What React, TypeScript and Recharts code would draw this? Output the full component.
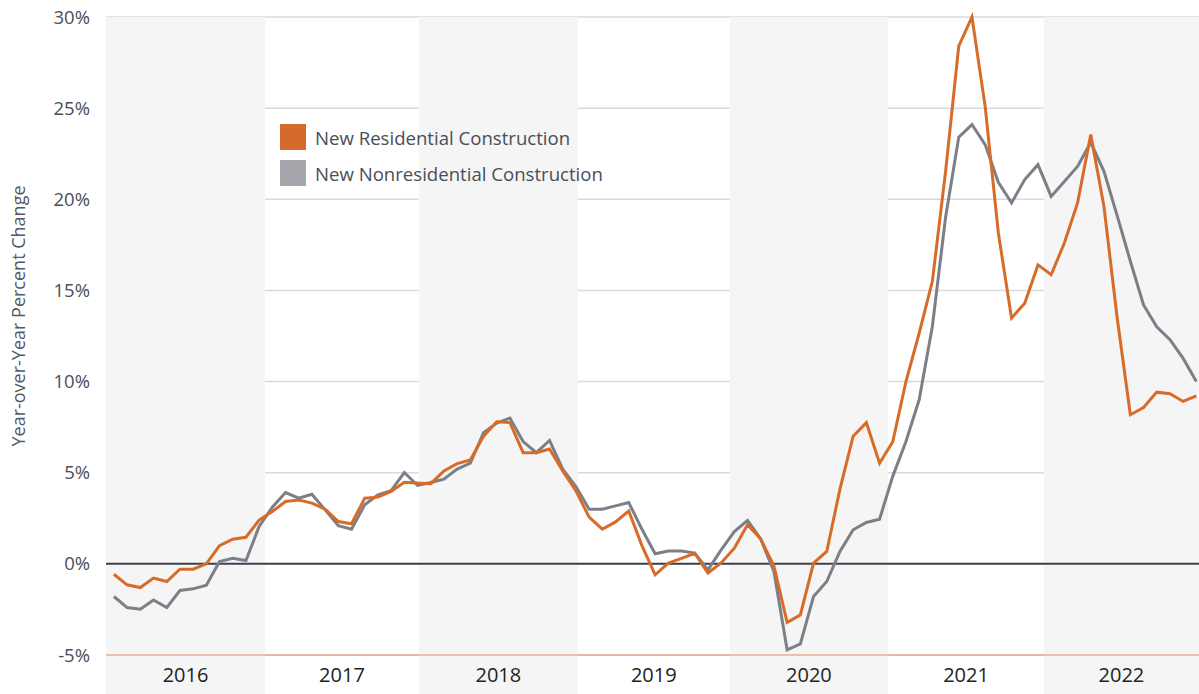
import {
  CartesianGrid,
  Line,
  LineChart,
  ReferenceArea,
  ReferenceLine,
  XAxis,
  YAxis,
} from "recharts"

// monthly year-over-year % change, 83 months
const residential = [
  -0.57, -1.15, -1.3, -0.78, -0.97, -0.29, -0.29, 0.0, 1.0, 1.35, 1.46, 2.4,
  2.87, 3.42, 3.5, 3.33, 3.0, 2.32, 2.2, 3.6, 3.66, 3.97, 4.48, 4.43,
  4.4, 5.1, 5.5, 5.7, 7.0, 7.8, 7.75, 6.1, 6.1, 6.3, 5.1, 4.0,
  2.56, 1.9, 2.3, 2.9, 1.0, -0.6, 0.04, 0.3, 0.58, -0.5, 0.05, 0.86,
  2.14, 1.36, -0.12, -3.22, -2.8, 0.04, 0.68, 4.1, 7.0, 7.75, 5.52, 6.7,
  10.0, 12.65, 15.5, 21.5, 28.4, 30.0, 25.1, 18.15, 13.48, 14.3, 16.4, 15.86,
  17.6, 19.8, 23.55, 19.6, 13.5, 8.18, 8.58, 9.42, 9.33, 8.91, 9.22,
]

const nonresidential = [
  -1.79, -2.4, -2.49, -1.98, -2.4, -1.46, -1.37, -1.17, 0.13, 0.31, 0.18, 2.05,
  3.11, 3.91, 3.6, 3.82, 2.96, 2.09, 1.9, 3.24, 3.79, 4.02, 5.01, 4.3,
  4.46, 4.65, 5.2, 5.53, 7.2, 7.72, 8.0, 6.71, 6.1, 6.77, 5.2, 4.24,
  3.0, 3.0, 3.18, 3.36, 1.9, 0.55, 0.71, 0.71, 0.59, -0.33, 0.77, 1.77,
  2.38, 1.36, -0.42, -4.72, -4.39, -1.79, -0.97, 0.68, 1.87, 2.27, 2.45, 4.8,
  6.71, 9.0, 13.02, 19.0, 23.41, 24.1, 23.0, 20.93, 19.8, 21.08, 21.9, 20.16,
  20.98, 21.8, 23.12, 21.53, 19.1, 16.6, 14.2, 13.0, 12.3, 11.27, 10.0,
]

const years = ["2016", "2017", "2018", "2019", "2020", "2021", "2022"]
// year boundaries in month-index units
const yearEdges = [-0.6, 11.45, 23.1, 35.15, 46.65, 58.65, 70.45, 82.2]
const yTicks = [-5, 0, 5, 10, 15, 20, 25, 30]

const data = residential.map((r, i) => ({
  month: i,
  residential: r,
  nonresidential: nonresidential[i],
}))

const yearCenters = years.map((_, i) => (yearEdges[i] + yearEdges[i + 1]) / 2)

const legendItems = [
  { label: "New Residential Construction", color: "#d46a2b" },
  { label: "New Nonresidential Construction", color: "#a5a7ad" },
]

const font = "'Open Sans', Roboto, sans-serif"

const App = () => {
  return (
    <div
      style={{
        position: "absolute",
        left: 0,
        top: 0,
        width: 1199,
        height: 694,
        fontFamily: font,
      }}
    >
      <LineChart
        width={1199}
        height={694}
        data={data}
        margin={{ top: 17, right: 0, bottom: 0, left: 0 }}
      >
        {years.map((y, i) =>
          i % 2 === 0 ? (
            <ReferenceArea
              key={y}
              x1={yearEdges[i]}
              x2={yearEdges[i + 1]}
              y1={-7.2}
              y2={30}
              fill="#f5f5f5"
              fillOpacity={1}
              stroke="none"
              ifOverflow="visible"
            />
          ) : null
        )}
        <CartesianGrid vertical={false} stroke="#dadade" strokeWidth={1.5} />
        <XAxis
          dataKey="month"
          type="number"
          height={39}
          domain={[yearEdges[0], yearEdges[yearEdges.length - 1]]}
          allowDataOverflow
          ticks={yearCenters}
          tickFormatter={(v) => years[yearCenters.indexOf(v)] ?? ""}
          tickLine={false}
          tickSize={0}
          tickMargin={13}
          axisLine={{ stroke: "#e0905f", strokeWidth: 1.2 }}
          tick={{ fill: "#222222", fontSize: 20, fontFamily: font }}
          interval={0}
        />
        <YAxis
          type="number"
          domain={[-5, 30]}
          ticks={yTicks}
          width={106}
          tickFormatter={(v) => `${v}%`}
          tickLine={false}
          axisLine={false}
          tickSize={0}
          tickMargin={16}
          tick={{ fill: "#4a4e58", fontSize: 18.5, fontFamily: font }}
          interval={0}
        />
        <ReferenceLine y={0} stroke="#3c404b" strokeWidth={2} />
        <Line
          type="linear"
          dataKey="nonresidential"
          stroke="#7b7f87"
          strokeWidth={3}
          dot={false}
          isAnimationActive={false}
        />
        <Line
          type="linear"
          dataKey="residential"
          stroke="#d86b28"
          strokeWidth={3}
          dot={false}
          isAnimationActive={false}
        />
      </LineChart>

      <div
        style={{
          position: "absolute",
          left: 18,
          top: 316,
          transform: "translate(-50%, -50%) rotate(-90deg)",
          whiteSpace: "nowrap",
          fontSize: 18,
          color: "#555963",
        }}
      >
        Year-over-Year Percent Change
      </div>

      <div style={{ position: "absolute", left: 280, top: 124 }}>
        {legendItems.map((item) => (
          <div
            key={item.label}
            style={{
              display: "flex",
              alignItems: "center",
              height: 26,
              marginBottom: 10,
            }}
          >
            <div
              style={{
                width: 26,
                height: 26,
                background: item.color,
                marginRight: 9,
              }}
            />
            <span style={{ fontSize: 18.6, color: "#4a4e58" }}>
              {item.label}
            </span>
          </div>
        ))}
      </div>
    </div>
  )
}

export default App
